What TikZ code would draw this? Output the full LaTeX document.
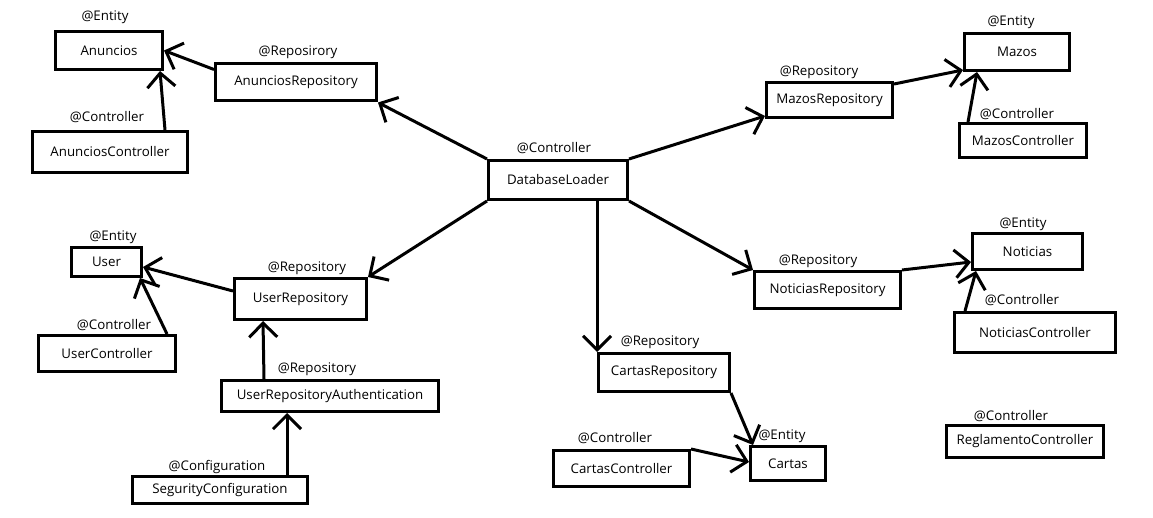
\documentclass[tikz,border=0pt]{standalone}
\usepackage{fontspec}
\setmainfont{Open Sans}
\usepackage{tikz}
\usetikzlibrary{arrows.meta}

\begin{document}
\begin{tikzpicture}[x=1pt, y=-1pt, font=\fontsize{13.3}{15}\selectfont,
  caja/.style={draw, line width=3pt, inner sep=0pt},
  flecha/.style={line width=3pt, -{Straight Barb[length=14pt, width=28pt, line width=3pt]}},
  anot/.style={inner sep=0pt}]
\useasboundingbox[fill=white](0,0) rectangle (1153,518);
% cajas
\node[caja, minimum width=107, minimum height=38](An) at (109,50.5){Anuncios};
\node[caja, minimum width=161, minimum height=37](AnR) at (296,82.5){AnunciosRepository};
\node[caja, minimum width=155, minimum height=41](AnC) at (110,152){AnunciosController};
\node[caja, minimum width=139, minimum height=39](DL) at (558,180){DatabaseLoader};
\node[caja, minimum width=70, minimum height=29](U) at (106.5,262){User};
\node[caja, minimum width=132, minimum height=41](UR) at (300.5,299){UserRepository};
\node[caja, minimum width=137, minimum height=36](UC) at (107,353.5){UserController};
\node[caja, minimum width=217, minimum height=31](URA) at (330,396){UserRepositoryAuthentication};
\node[caja, minimum width=175, minimum height=27](SC) at (220,490){SegurityConfiguration};
\node[caja, minimum width=131, minimum height=38](CR) at (664,372.5){CartasRepository};
\node[caja, minimum width=75, minimum height=34](Ca) at (788,463.5){Cartas};
\node[caja, minimum width=136, minimum height=36](CC) at (621.5,468.5){CartasController};
\node[caja, minimum width=126, minimum height=35](MR) at (829.5,100){MazosRepository};
\node[caja, minimum width=105, minimum height=37](Ma) at (1017,52){Mazos};
\node[caja, minimum width=127, minimum height=34](MC) at (1023,140.5){MazosController};
\node[caja, minimum width=146, minimum height=37](NR) at (827.5,290){NoticiasRepository};
\node[caja, minimum width=110, minimum height=36](No) at (1027.5,251.5){Noticias};
\node[caja, minimum width=161, minimum height=40](NC) at (1035,332.5){NoticiasController};
\node[caja, minimum width=157, minimum height=32](RC) at (1025,441.5){ReglamentoController};
% anotaciones
\node[anot](tAn) at (105,17){@Entity};
\node[anot](tAnR) at (298,52){@Reposirory};
\node[anot](tAnC) at (107,117){@Controller};
\node[anot](tDL) at (554,148){@Controller};
\node[anot](tU) at (113,237){@Entity};
\node[anot](tUR) at (307,268){@Repository};
\node[anot](tUC) at (114,325){@Controller};
\node[anot](tURA) at (317,369){@Repository};
\node[anot](tSC) at (217,467){@Configuration};
\node[anot](tCR) at (660,342){@Repository};
\node[anot](tCa) at (782,436){@Entity};
\node[anot](tCC) at (615,438){@Controller};
\node[anot](tMR) at (819,72){@Repository};
\node[anot](tMa) at (1011,22){@Entity};
\node[anot](tMC) at (1017,114){@Controller};
\node[anot](tNR) at (818,261){@Repository};
\node[anot](tNo) at (1023,224){@Entity};
\node[anot](tNC) at (1022,300){@Controller};
\node[anot](tRC) at (1011,416){@Controller};
% conexiones
\draw[flecha]([yshift=-7pt]AnR.north west)--(An.east);
\draw[flecha]([xshift=-24pt]AnC.north east)--([xshift=-4pt]An.south east);
\draw[flecha](DL.north west)--(AnR.south east);
\draw[flecha](DL.north east)--([yshift=3pt]MR.south west);
\draw[flecha]([yshift=-3pt]MR.north east)--([yshift=2pt]Ma.south west);
\draw[flecha]([xshift=10pt]MC.north west)--([xshift=14pt]Ma.south west);
\draw[flecha](DL.south west)--(UR.north east);
\draw[flecha]([yshift=-14pt]UR.north west)--([yshift=-21pt]U.north east);
\draw[flecha]([xshift=-10pt]UC.north east)--([xshift=-3pt]U.south east);
\draw[flecha]([xshift=44pt]URA.north west)--([xshift=30pt]UR.south west);
\draw[flecha]([xshift=-22pt]SC.north east)--([xshift=67pt]URA.south west);
\draw[flecha]([xshift=-32pt]DL.south east)--(CR.north west);
\draw[flecha](DL.south east)--(NR.north west);
\draw[flecha](NR.north east)--([yshift=-30pt]No.north west);
\draw[flecha]([xshift=12pt]NC.north west)--([xshift=5pt]No.south west);
\draw[flecha](CR.south east)--([xshift=4pt]Ca.north west);
\draw[flecha](CC.north east)--([yshift=-17pt]Ca.north west);
\end{tikzpicture}
\end{document}
